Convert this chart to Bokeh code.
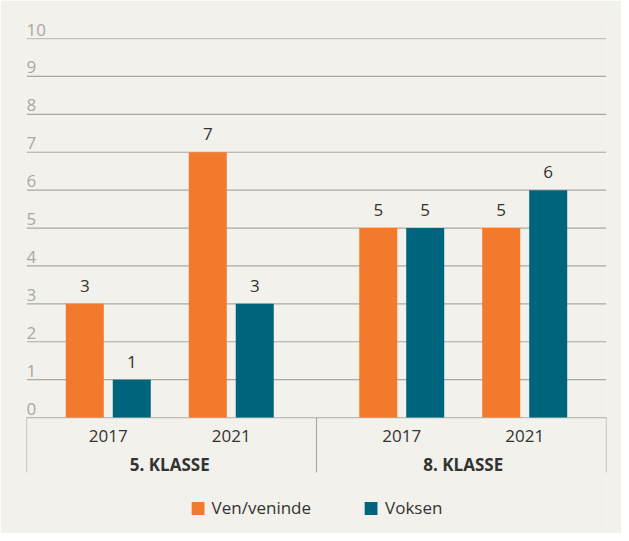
from bokeh.plotting import figure
from bokeh.models import FactorRange, Range1d, ColumnDataSource, Span, Legend, LegendItem
from bokeh.transform import dodge
from bokeh.core.properties import value
from bokeh.embed import file_html
from bokeh.resources import INLINE

# ---- data ----
klasser = ["5. KLASSE", "8. KLASSE"]
years = ["2017", "2021"]
ven_veninde = [3, 7, 5, 5]
voksen = [1, 3, 5, 6]
y_ticks = [0, 1, 2, 3, 4, 5, 6, 7, 8, 9, 10]
series_names = ["Ven/veninde", "Voksen"]

# ---- style ----
BG = "#F2F1EB"
ORANGE = "#F37A2C"
TEAL = "#00647C"
FONT = "Open Sans"
TXT = "#333333"
GRID = "#A9A9A7"

factors = [(k, y) for k in klasser for y in years]

FP = 0.0      # factor padding
GP = 0.386    # group padding
RP = 0.165    # range padding (absolute)
x_range = FactorRange(*factors, factor_padding=FP, group_padding=GP,
                      range_padding=RP, range_padding_units="absolute")
y_range = Range1d(-3.06, 10.45)

p = figure(width=621, height=533, x_range=x_range, y_range=y_range,
           output_backend="svg", toolbar_location=None,
           x_axis_location=None, y_axis_location=None,
           min_border_left=26, min_border_right=15, min_border_top=21, min_border_bottom=0)
p.background_fill_color = BG
p.border_fill_color = BG
p.outline_line_color = None
p.grid.visible = False

# gridlines (behind bars)
for t in y_ticks:
    if t == 0:
        col = "#BDBCB7"
    elif t == max(y_ticks):
        col = "#C2C1BC"
    else:
        col = GRID
    p.add_layout(Span(location=t, dimension="width", line_color=col,
                      line_width=1.2, level="underlay"))

src = ColumnDataSource(dict(x=factors, ven=ven_veninde, vok=voksen,
                            ven_t=[str(v) for v in ven_veninde],
                            vok_t=[str(v) for v in voksen]))

OFF = 0.191
W = 0.309
r1 = p.vbar(x=dodge("x", -OFF, range=p.x_range), top="ven", width=W, bottom=0,
            source=src, fill_color=ORANGE, line_color=None)
r2 = p.vbar(x=dodge("x", OFF, range=p.x_range), top="vok", width=W, bottom=0,
            source=src, fill_color=TEAL, line_color=None)

lab_kw = dict(text_font=value(FONT), text_font_size="17px", text_color=TXT,
              text_align="center", text_baseline="middle", y_offset=-18)
p.text(x=dodge("x", -OFF, range=p.x_range), y="ven", text="ven_t", source=src, **lab_kw)
p.text(x=dodge("x", OFF, range=p.x_range), y="vok", text="vok_t", source=src, **lab_kw)

# y tick labels, left aligned above gridlines
ysrc = ColumnDataSource(dict(x=[factors[0]] * len(y_ticks), y=y_ticks,
                             t=[str(t) for t in y_ticks]))
p.text(x=dodge("x", -(0.5 + RP), range=p.x_range), y="y", text="t", source=ysrc,
       text_font=value(FONT), text_font_size="17px", text_color="#A8A8A6",
       text_align="left", text_baseline="middle", y_offset=-9)

# category axis box
BOX_BOTTOM = -1.45
edges = [(factors[0], -(0.5 + RP)), (factors[1], 0.5 + GP / 2), (factors[-1], 0.5 + RP)]
for fac, off in edges:
    p.segment(x0=dodge("x", off, range=p.x_range), y0=0,
              x1=dodge("x", off, range=p.x_range), y1=BOX_BOTTOM,
              source=ColumnDataSource(dict(x=[fac])), line_color=GRID, line_width=1.2)

yr_src = ColumnDataSource(dict(x=factors, t=[f[1] for f in factors], y=[0] * len(factors)))
p.text(x="x", y="y", text="t", source=yr_src, text_font=value(FONT),
       text_font_size="17px", text_color=TXT, text_align="center",
       text_baseline="middle", y_offset=18.5)
grp_src = ColumnDataSource(dict(x=klasser, t=klasser, y=[0] * len(klasser)))
p.text(x="x", y="y", text="t", source=grp_src, text_font=value(FONT),
       text_font_size="17px", text_font_style="bold", text_color=TXT,
       text_align="center", text_baseline="middle", y_offset=46.5)

legend = Legend(items=[LegendItem(label=series_names[0], renderers=[r1]),
                       LegendItem(label=series_names[1], renderers=[r2])],
                location="bottom_center", orientation="horizontal",
                background_fill_alpha=0, border_line_color=None,
                glyph_width=16, glyph_height=16, spacing=52, label_standoff=6,
                label_text_font=FONT, label_text_font_size="17px",
                label_text_color=TXT, padding=4, margin=14)
p.add_layout(legend)

open("out.html", "w").write(file_html(p, INLINE))
